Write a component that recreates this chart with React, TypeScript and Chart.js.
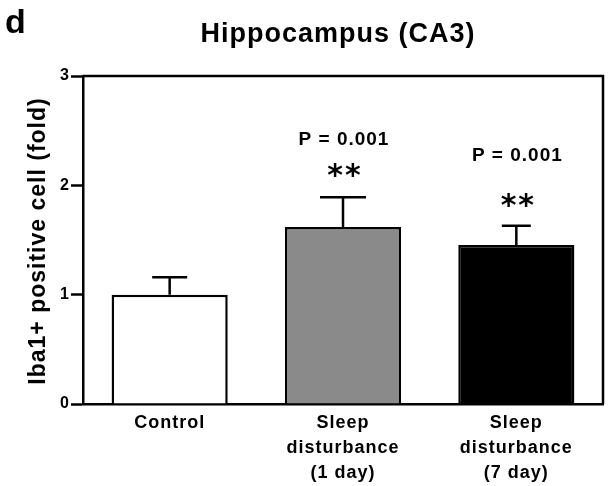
import React, { useEffect, useRef } from "react";
import { Chart, registerables } from "chart.js";

Chart.register(...registerables);

// ---------- data ----------
const categories: (string | string[])[] = [
  "Control",
  ["Sleep", "disturbance", "(1 day)"],
  ["Sleep", "disturbance", "(7 day)"],
];
const meanValues = [1.0, 1.62, 1.455];
const errorValues = [0.16, 0.27, 0.175];
const pLabels = ["", "P = 0.001", "P = 0.001"];
const starLabels = ["", "**", "**"];
const yTickValues = [0, 1, 2, 3];
const chartTitle = "Hippocampus (CA3)";
const yAxisTitle = "Iba1+ positive cell (fold)";
const panelLabel = "d";

// ---------- styles ----------
const FONT = '"Liberation Sans", Arial, Helvetica, sans-serif';
const barColors = ["#ffffff", "#8a8a8a", "#000000"];
const capWidths = [35, 46, 29];
const pOffsets = [0, 52, 65]; // px from error-bar top up to P-label baseline
const starOffsets = [0, 27, 25.5]; // px from error-bar top up to star ink centre
const LINE = 2.5;

const annotate = {
  id: "annotate",
  beforeDraw(chart: any) {
    (chart.ctx as any).letterSpacing = "1px";
  },
  afterDatasetsDraw(chart: any) {
    const ctx = chart.ctx as CanvasRenderingContext2D;
    const xs = chart.scales.x;
    const ys = chart.scales.y;
    ctx.save();
    ctx.strokeStyle = "#000";
    ctx.lineWidth = LINE;
    meanValues.forEach((m, i) => {
      const cx = xs.getPixelForValue(i);
      const yBar = ys.getPixelForValue(m);
      const yTop = ys.getPixelForValue(m + errorValues[i]);
      ctx.beginPath();
      ctx.moveTo(cx, yBar);
      ctx.lineTo(cx, yTop);
      ctx.moveTo(cx - capWidths[i] / 2, yTop);
      ctx.lineTo(cx + capWidths[i] / 2, yTop);
      ctx.stroke();
    });
    ctx.restore();
  },
  afterDraw(chart: any) {
    const ctx = chart.ctx as any;
    const area = chart.chartArea;
    const xs = chart.scales.x;
    const ys = chart.scales.y;
    ctx.save();
    // frame: top and right
    ctx.strokeStyle = "#000";
    ctx.lineWidth = LINE;
    ctx.beginPath();
    ctx.moveTo(area.left, area.top);
    ctx.lineTo(area.right, area.top);
    ctx.lineTo(area.right, area.bottom);
    ctx.stroke();

    ctx.fillStyle = "#000";
    ctx.textBaseline = "alphabetic";

    // panel label
    ctx.textAlign = "left";
    ctx.font = `bold 34px ${FONT}`;
    ctx.letterSpacing = "0px";
    ctx.fillText(panelLabel, 5, 33);

    // title
    ctx.letterSpacing = "1px";
    ctx.textAlign = "center";
    ctx.font = `bold 27px ${FONT}`;
    ctx.fillText(chartTitle, 338, 42);

    // y axis title
    ctx.save();
    ctx.translate(45, (area.top + area.bottom) / 2 + 1);
    ctx.rotate(-Math.PI / 2);
    ctx.font = `bold 23px ${FONT}`;
    ctx.textAlign = "center";
    ctx.fillText(yAxisTitle, 0, 0);
    ctx.restore();

    // significance annotations
    meanValues.forEach((m, i) => {
      const cx = xs.getPixelForValue(i);
      const yTop = ys.getPixelForValue(m + errorValues[i]);
      if (pLabels[i]) {
        ctx.font = `bold 19px ${FONT}`;
        ctx.textAlign = "center";
        ctx.letterSpacing = "1px";
        ctx.fillText(pLabels[i], cx + 1, yTop - pOffsets[i]);
      }
      if (starLabels[i]) {
        ctx.font = `bold 30px "DejaVu Sans", sans-serif`;
        ctx.letterSpacing = "2px";
        ctx.textAlign = "center";
        const mt = ctx.measureText(starLabels[i]);
        const cy = yTop - starOffsets[i];
        const base = cy + (mt.actualBoundingBoxAscent - mt.actualBoundingBoxDescent) / 2;
        ctx.fillText(starLabels[i], cx + 2, base);
      }
    });
    ctx.restore();
  },
};

export default function App() {
  const ref = useRef<HTMLCanvasElement | null>(null);
  useEffect(() => {
    if (!ref.current) return;
    const chart = new Chart(ref.current, {
      type: "bar",
      data: {
        labels: categories as any,
        datasets: [
          {
            data: meanValues,
            backgroundColor: barColors,
            borderColor: "#000",
            borderWidth: LINE,
            borderSkipped: "start",
            barPercentage: 0.67,
            categoryPercentage: 1,
          },
        ],
      },
      options: {
        animation: false,
        responsive: true,
        maintainAspectRatio: false,
        layout: { padding: { left: 0, right: 9, top: 76, bottom: 0 } },
        plugins: {
          legend: { display: false },
          title: { display: false },
          tooltip: { enabled: false },
        },
        scales: {
          x: {
            grid: { display: false, drawTicks: false },
            border: { display: true, color: "#000", width: LINE },
            ticks: {
              color: "#000",
              padding: 6,
              maxRotation: 0,
              autoSkip: false,
              font: { family: FONT, size: 18, weight: "bold", lineHeight: 1.4 },
            },
            afterFit: (s: any) => {
              s.height = 82;
            },
          },
          y: {
            min: 0,
            max: 3,
            grid: {
              drawOnChartArea: false,
              drawTicks: true,
              tickLength: 12,
              tickWidth: LINE,
              tickColor: "#000",
            },
            border: { display: true, color: "#000", width: LINE },
            ticks: {
              color: "#000",
              padding: 1,
              font: { family: FONT, size: 16, weight: "bold" },
            },
            afterBuildTicks: (s: any) => {
              s.ticks = yTickValues.map((v) => ({ value: v }));
            },
            afterFit: (s: any) => {
              s.width = 83;
            },
          },
        },
      },
      plugins: [annotate],
    });
    return () => chart.destroy();
  }, []);
  return (
    <div style={{ position: "fixed", left: 0, top: 0, width: 612, height: 486, background: "#fff" }}>
      <canvas ref={ref} />
    </div>
  );
}
